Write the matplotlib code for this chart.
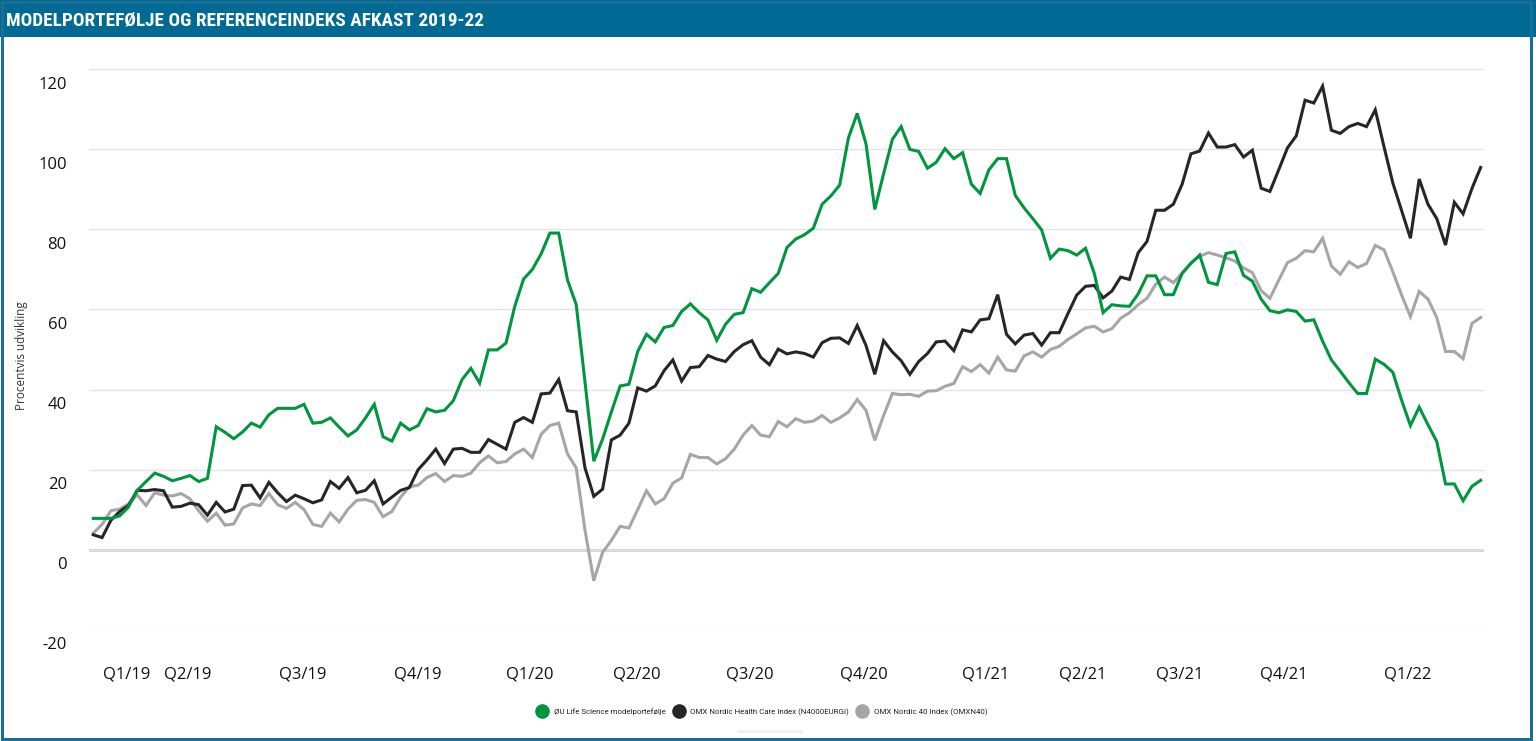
import matplotlib
matplotlib.use("Agg")
import matplotlib.pyplot as plt
from matplotlib import font_manager
from matplotlib.lines import Line2D
from matplotlib.patches import Rectangle
from matplotlib.transforms import ScaledTranslation

# ---------------------------------------------------------------------------
# Data (weekly points, % development)
# ---------------------------------------------------------------------------

TITLE   = "MODELPORTEFØLJE OG REFERENCEINDEKS AFKAST 2019-22"
Y_LABEL = "Procentvis udvikling"

SERIES_NAMES = [
    "ØU Life Science modelportefølje",
    "OMX Nordic Health Care Index (N4000EURGI)",
    "OMX Nordic 40 Index (OMXN40)",
]

QUARTER_LABELS = ["Q1/19", "Q2/19", "Q3/19", "Q4/19", "Q1/20", "Q2/20", "Q3/20",
                  "Q4/20", "Q1/21", "Q2/21", "Q3/21", "Q4/21", "Q1/22"]
QUARTER_POS    = [3.8, 10.8, 23.8, 36.9, 49.7, 61.9, 74.8,
                  87.7, 101.6, 112.7, 123.7, 135.6, 149.7]

Y_TICKS = [-20, 0, 20, 40, 60, 80, 100, 120]

life_science = [
    7.8, 7.8, 7.8, 8.4, 10.6, 14.8, 17.0, 19.1, 18.3, 17.2,
    17.8, 18.5, 17.0, 17.8, 30.7, 29.3, 27.7, 29.4, 31.6, 30.6,
    33.7, 35.3, 35.3, 35.3, 36.3, 31.6, 31.8, 32.9, 30.6, 28.4,
    29.9, 32.9, 36.3, 28.2, 27.1, 31.6, 29.9, 31.0, 35.2, 34.4,
    34.8, 37.2, 42.5, 45.3, 41.6, 49.9, 49.9, 51.6, 60.8, 67.6,
    70.0, 73.9, 79.1, 79.1, 67.4, 61.2,
    41.8, 22.1, 27.6, 34.4, 40.9, 41.3, 49.5, 53.8, 51.9, 55.5,
    56.0, 59.5, 61.4, 59.2, 57.4, 52.3, 56.3, 58.8, 59.2, 65.2,
    64.3, 66.7, 69.0, 75.5, 77.6, 78.7, 80.3, 86.3, 88.4, 91.1,
    102.9, 109.0, 101.4, 85.0,
    93.9, 102.5, 105.7, 100.0, 99.5, 95.3, 96.8, 100.2, 97.7, 99.2,
    91.3, 89.0, 94.9, 97.7, 97.7, 88.5, 85.4, 82.7, 79.9, 72.8,
    75.1, 74.7, 73.6, 75.3, 69.0, 59.2, 61.2, 60.9, 60.8, 63.9,
    68.4, 68.4, 63.7, 63.7,
    69.0, 71.5, 73.6, 66.8, 66.2, 74.0, 74.4, 68.5, 67.1, 62.6,
    59.7, 59.2, 59.9, 59.5, 57.1, 57.4, 52.1, 47.4, 44.6, 41.7,
    39.0, 39.0, 47.6, 46.3, 44.3, 37.3, 31.0, 35.6, 31.2, 27.0,
    16.4, 16.4, 12.2, 15.8, 17.3,
]

health_care = [
    3.7, 3.0, 7.3, 9.5, 11.0, 14.8, 14.7, 15.0, 14.7, 10.6,
    10.8, 11.6, 11.2, 8.6, 11.8, 9.4, 10.1, 16.0, 16.1, 12.9,
    16.8, 14.2, 12.0, 13.6, 12.7, 11.7, 12.4, 17.0, 15.3, 18.0,
    14.2, 14.8, 17.2, 11.4, 13.1, 14.8, 15.5, 20.0, 22.4, 25.1,
    21.5, 25.1, 25.3, 24.3, 24.3, 27.5, 26.3, 25.1, 31.8, 33.0,
    31.8, 38.9, 39.1, 42.5, 34.7, 34.4,
    20.4, 13.3, 15.1, 27.4, 28.6, 31.6, 40.4, 39.6, 40.9, 44.7,
    47.4, 42.1, 45.5, 45.7, 48.5, 47.6, 47.0, 49.5, 51.2, 52.2,
    48.1, 46.2, 50.1, 48.9, 49.4, 49.0, 48.1, 51.7, 52.8, 52.9,
    51.5, 56.0, 51.0, 43.8,
    52.2, 49.4, 47.2, 43.8, 47.0, 49.0, 51.9, 52.1, 49.7, 54.9,
    54.4, 57.4, 57.7, 63.7, 53.8, 51.4, 53.6, 54.0, 51.1, 54.2,
    54.2, 59.0, 63.6, 65.8, 66.0, 62.9, 64.6, 68.1, 67.5, 74.2,
    77.0, 84.8, 84.8, 86.3,
    91.3, 98.9, 99.6, 104.1, 100.6, 100.6, 101.2, 98.1, 99.8, 90.3,
    89.5, 94.9, 100.4, 103.4, 112.3, 111.6, 115.8, 104.8, 104.0, 105.7,
    106.5, 105.7, 109.9, 100.6, 91.6, 84.7, 77.8, 92.6, 86.3, 82.7,
    76.1, 86.8, 83.9, 90.2, 95.5,
]

nordic40 = [
    4.1, 6.3, 9.7, 10.1, 11.4, 13.7, 11.0, 14.2, 13.6, 13.4,
    14.0, 12.7, 9.7, 7.1, 9.1, 6.1, 6.4, 10.4, 11.4, 11.0,
    14.0, 11.2, 10.3, 11.8, 10.0, 6.3, 5.8, 9.1, 6.9, 10.1,
    12.3, 12.5, 11.8, 8.2, 9.5, 13.1, 15.7, 16.1, 18.0, 19.0,
    17.0, 18.5, 18.3, 19.1, 21.7, 23.4, 21.7, 22.0, 23.9, 25.1,
    23.0, 28.8, 31.0, 31.6, 23.9, 20.4,
    4.8, -7.8, -0.7, 2.3, 5.8, 5.4, 10.0, 14.7, 11.4, 12.7,
    16.6, 17.9, 23.8, 23.0, 23.0, 21.4, 22.7, 25.1, 28.6, 31.0,
    28.6, 28.2, 32.0, 30.7, 32.7, 31.8, 32.1, 33.5, 31.8, 32.9,
    34.4, 37.5, 34.8, 27.3,
    33.5, 39.0, 38.7, 38.8, 38.3, 39.6, 39.7, 40.8, 41.5, 45.7,
    44.5, 46.2, 44.1, 48.1, 44.9, 44.6, 48.4, 49.4, 48.1, 50.0,
    50.8, 52.5, 53.9, 55.4, 55.8, 54.4, 55.2, 57.8, 59.2, 61.2,
    62.8, 66.3, 68.1, 66.7,
    69.1, 71.7, 73.3, 74.2, 73.6, 72.9, 72.1, 70.4, 69.2, 64.7,
    62.8, 67.3, 71.7, 72.8, 74.7, 74.4, 77.8, 70.9, 68.8, 71.9,
    70.5, 71.5, 76.0, 74.9, 69.4, 63.6, 58.2, 64.5, 62.6, 58.0,
    49.5, 49.5, 47.7, 56.5, 58.0,
]

# ---------------------------------------------------------------------------
# Style
# ---------------------------------------------------------------------------

W, H, DPI  = 1536, 741, 100
COLORS     = ["#00963f", "#262626", "#a6a6a6"]
BAR_BLUE   = "#006a94"
FRAME_BLUE = "#1b6e96"
TICK_FONT  = ["Open Sans", "DejaVu Sans"]
LEG_FONT   = ["Roboto", "DejaVu Sans"]

plt.rcParams["axes.unicode_minus"] = False

installed = {f.name for f in font_manager.fontManager.ttflist}
TITLE_FONT = [f for f in ["Liberation Sans Narrow", "Roboto Condensed",
                          "Open Sans Condensed", "DejaVu Sans"] if f in installed]

fig = plt.figure(figsize=(W / DPI, H / DPI), dpi=DPI)
fig.patch.set_facecolor("white")

# title bar and outer frame
fig.patches.append(Rectangle((0, 1 - 37 / H), 1, 37 / H, transform=fig.transFigure,
                             facecolor=BAR_BLUE, edgecolor="none", zorder=0))
fig.patches.append(Rectangle((2 / W, 2 / H), 1529 / W, (H - 4) / H,
                             transform=fig.transFigure, fill=False,
                             edgecolor=FRAME_BLUE, lw=2.2, zorder=1))
fig.patches.append(Rectangle((738 / W, 8 / H), 65 / W, 3 / H, transform=fig.transFigure,
                             facecolor="#f0f0f0", edgecolor="none", zorder=1))

title = fig.text(6 / W, 1 - 20 / H, TITLE, color="white", fontsize=16,
                 fontweight="bold", family=TITLE_FONT, fontstretch="condensed",
                 ha="left", va="center")

# axes: x = week index, pixel-matched to the reference plot area
ax = fig.add_axes([89 / W, (H - 630) / H, 1395 / W, (630 - 61) / H])
x = range(len(life_science))
ax.plot(x, nordic40, color=COLORS[2], lw=2.2, zorder=3, solid_joinstyle="miter")
ax.plot(x, health_care, color=COLORS[1], lw=2.2, zorder=4, solid_joinstyle="miter")
ax.plot(x, life_science, color=COLORS[0], lw=2.2, zorder=5, solid_joinstyle="miter")

ax.set_xlim(-0.49, 158.38)
ax.set_ylim(-20.1, 122.1)
ax.set_yticks(Y_TICKS)
ax.set_xticks(QUARTER_POS)
ax.set_xticklabels(QUARTER_LABELS)
ax.grid(axis="y", color="#e2e2e2", lw=1.0, zorder=0)
ax.axhline(0, color="#cccccc", lw=2.0, zorder=1)
for s in ax.spines.values():
    s.set_visible(False)
ax.tick_params(axis="both", length=0, labelsize=12, colors="#111111")
ax.tick_params(axis="y", pad=16)
ax.tick_params(axis="x", pad=26)
for lab in ax.get_xticklabels() + ax.get_yticklabels():
    lab.set_family(TICK_FONT)
# y labels sit a little below their gridlines
offset = ScaledTranslation(0, -0.135, fig.dpi_scale_trans)
for lab in ax.get_yticklabels():
    lab.set_transform(lab.get_transform() + offset)

fig.text(22 / W, 1 - 356 / H, Y_LABEL, rotation=90, fontsize=8.5, color="#333333",
         family=TICK_FONT, ha="center", va="center")

handles = [Line2D([], [], ls="none", marker="o", ms=9.5, color=c, label=n)
           for c, n in zip(COLORS, SERIES_NAMES)]
fig.legend(handles=handles, loc="center", bbox_to_anchor=(763 / W, 1 - 712 / H),
           ncol=3, frameon=False, prop={"family": LEG_FONT, "size": 5.7},
           handlelength=0.9, handletextpad=1.05, columnspacing=1.2, labelcolor="#222222")

# fit the title to the width it has in the reference
renderer = fig.canvas.get_renderer()
tw = title.get_window_extent(renderer).width
title.set_fontsize(16 * 476 / tw)

fig.savefig("out.png", dpi=DPI)
